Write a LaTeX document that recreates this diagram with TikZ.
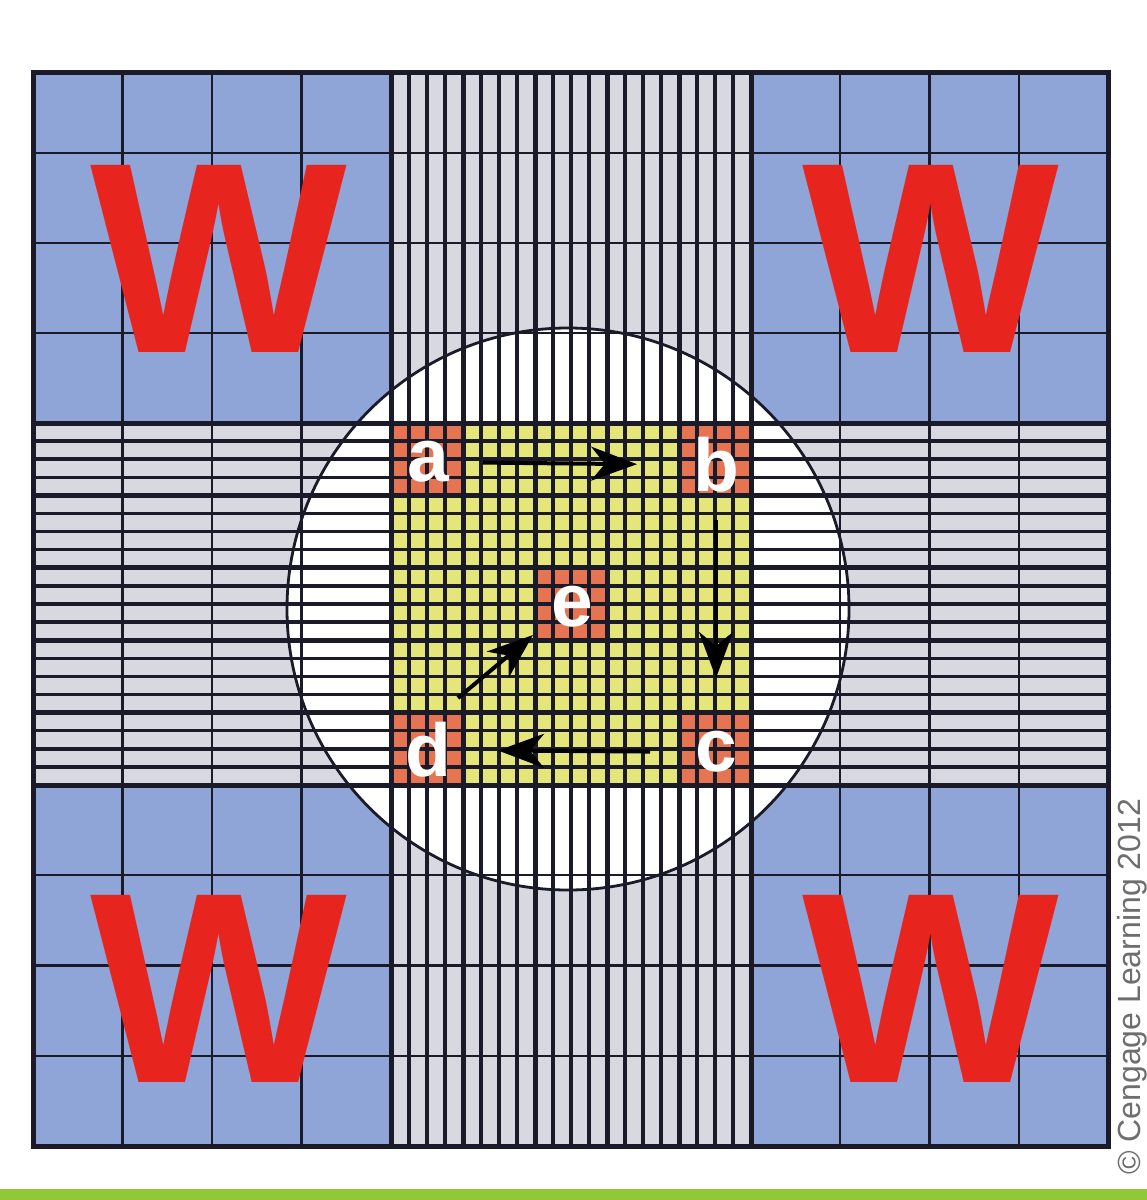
\documentclass[tikz,border=0pt]{standalone}
\usepackage{fontspec}
\setmainfont{Liberation Sans}
\usetikzlibrary{arrows.meta}
\definecolor{cornerblue}{RGB}{143,165,215}
\definecolor{bandgrey}{RGB}{216,216,224}
\definecolor{cellyellow}{RGB}{228,230,122}
\definecolor{cellred}{RGB}{230,115,82}
\definecolor{wred}{RGB}{232,36,30}
\definecolor{gridink}{RGB}{26,26,40}
\definecolor{bargreen}{RGB}{145,200,55}
\definecolor{copygrey}{RGB}{110,110,110}
\tikzset{
  cornerline/.style={gridink, line width=2.8pt},
  subline/.style={gridink, line width=3.5pt},
  groupline/.style={gridink, line width=5pt},
  wletter/.style={wred, inner sep=0pt, font=\fontsize{272}{272}\selectfont\bfseries},
  cellletter/.style={white, inner sep=0pt, font=\fontsize{75}{75}\selectfont\bfseries},
  moveline/.style={black, line width=4pt, -{Stealth[length=46pt,width=34pt,inset=14pt]}}
}

\begin{document}
\begin{tikzpicture}[x=1pt,y=-1pt]
\useasboundingbox (0,0) rectangle (1147,1200);
\clip (0,0) rectangle (1147,1200);
\fill[white] (0,0) rectangle (1147,1200);
\fill[bargreen] (0,1189) rectangle (1147,1200);
% fills: corners, bands, circle, centre
\fill[cornerblue] (33,72) rectangle (1108,1146);
\fill[bandgrey] (391,72) rectangle (751,1146);
\fill[bandgrey] (33,423) rectangle (1108,785);
\coordinate (O) at (568,609);
\fill[white] (O) circle[radius=281pt];
\fill[cellyellow] (391,423) rectangle (751,785);
\foreach \i/\j in {0/0, 4/0, 4/4, 0/4, 2/2}
  \fill[cellred] (391+72*\i,423+72.4*\j) rectangle ++(72,72.4);
% grid lines
\foreach \k in {1,...,19} {
  \draw[subline] (391+18*\k,72) -- (391+18*\k,1146);
  \draw[subline] (33,423+18.1*\k) -- (1108,423+18.1*\k);
}
\foreach \k in {4,8,12,16} {
  \draw[groupline] (391+18*\k,72) -- (391+18*\k,1146);
  \draw[groupline] (33,423+18.1*\k) -- (1108,423+18.1*\k);
}
\foreach \x in {122.5, 212, 301.5, 840, 929.5, 1019}
  \draw[cornerline] (\x,72) -- (\x,1146);
\foreach \y in {153, 243, 333, 875, 965.5, 1056}
  \draw[cornerline] (33,\y) -- (1108,\y);
\draw[groupline] (391,72) -- (391,1146) (751,72) -- (751,1146)
  (33,423) -- (1108,423) (33,785) -- (1108,785);
\draw[groupline] (33,72) rectangle (1108,1146);
\draw[gridink, line width=2.8pt] (O) circle[radius=281pt];
% the four W
\foreach \x/\y [count=\n] in {219/259, 931/259, 219/989, 931/989}
  \node[wletter] (w\n) at (\x,\y) {W};
% cells a to e
\node[cellletter] (a) at (428,462) {a};
\node[cellletter] (b) at (716,465) {b};
\node[cellletter] (c) at (716,752) {c};
\node[cellletter] (d) at (428,750) {d};
\node[cellletter] (e) at (572,607) {e};
\draw[moveline, shorten <=55pt, shorten >=79pt] (a.center) -- (b.center);
\draw[moveline, shorten <=55pt, shorten >=74pt] (b.center) -- (c.center);
\draw[moveline, shorten <=66pt, shorten >=70pt] (c.center) -- (d.center);
\draw[moveline] ([shift={(30,-52)}]d.center) -- ([shift={(-39,28)}]e.center);
\node[rotate=90, anchor=base west, text=copygrey, inner sep=0pt,
  font=\fontsize{32}{32}\selectfont] (copy) at (1140,1175) {© Cengage Learning 2012};
\end{tikzpicture}
\end{document}
